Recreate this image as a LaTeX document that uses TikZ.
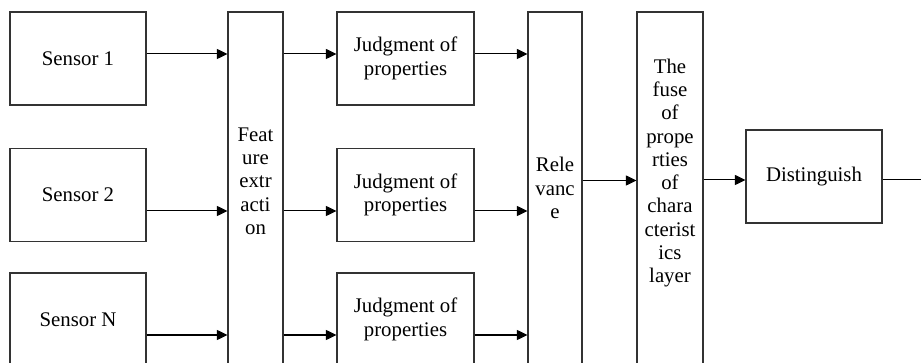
\documentclass[tikz,border=0pt]{standalone}
\usepackage{fontspec}
\setmainfont{Liberation Serif}
\usetikzlibrary{arrows.meta}
\begin{document}
\begin{tikzpicture}[x=1pt,y=-1pt,
  box/.style={draw=black!80,line width=1.1pt,rectangle,inner sep=0pt,
    font=\fontsize{20.8}{23.3}\selectfont,align=center},
  txt/.style={inner sep=0pt,font=\fontsize{20.8}{23.3}\selectfont,align=center},
  arr/.style={draw=black,line width=1pt,-{Triangle[length=10.5pt,width=10pt]}}]
\useasboundingbox (0,0) rectangle (921,363);
\clip (0,0) rectangle (921,363);
% row coordinates
\coordinate (r1) at (0,54);
\coordinate (r2) at (0,211);
\coordinate (r3) at (0,335);
\coordinate (rm) at (0,180.5);
% sensors
\node[box,minimum width=136,minimum height=93] (s1) at (78,58.5) {Sensor 1};
\node[box,minimum width=136,minimum height=93] (s2) at (78,195) {Sensor 2};
\node[box,minimum width=136,minimum height=93] (s3) at (78,319.5) {Sensor N};
% feature extraction
\node[box,minimum width=55,minimum height=354] (fe) at (255.5,189) {};
\node[txt] (fet) at (255.5,181) {Feat\\ure\\extr\\acti\\on};
% judgments
\node[box,minimum width=137,minimum height=93] (j1) at (405.5,58.5) {Judgment of\\properties};
\node[box,minimum width=137,minimum height=93] (j2) at (405.5,195) {Judgment of\\properties};
\node[box,minimum width=137,minimum height=93] (j3) at (405.5,319.5) {Judgment of\\properties};
% relevance
\node[box,minimum width=54,minimum height=354] (rel) at (555,189) {};
\node[txt] (relt) at (555,188) {Rele\\vanc\\e};
% fuse
\node[box,minimum width=66,minimum height=354] (fu) at (670,189) {};
\node[txt] (fut) at (670,173) {The\\fuse\\of\\prope\\rties\\of\\chara\\cterist\\ics\\layer};
% distinguish
\node[box,minimum width=136,minimum height=93] (di) at (814,176.5) {Distinguish};
\coordinate (out) at (932,180);
% connectors
\draw[arr] (s1.east |- r1) -- (fe.west |- r1);
\draw[arr] (s2.east |- r2) -- (fe.west |- r2);
\draw[arr] (s3.east |- r3) -- (fe.west |- r3);
\draw[arr] (fe.east |- r1) -- (j1.west |- r1);
\draw[arr] (fe.east |- r2) -- (j2.west |- r2);
\draw[arr] (fe.east |- r3) -- (j3.west |- r3);
\draw[arr] (j1.east |- r1) -- (rel.west |- r1);
\draw[arr] (j2.east |- r2) -- (rel.west |- r2);
\draw[arr] (j3.east |- r3) -- (rel.west |- r3);
\draw[arr] (rel.east |- rm) -- (fu.west |- rm);
\draw[arr] (fu.east |- out) -- (di.west |- out);
\draw[arr] (di.east |- out) -- (out);
\end{tikzpicture}
\end{document}
